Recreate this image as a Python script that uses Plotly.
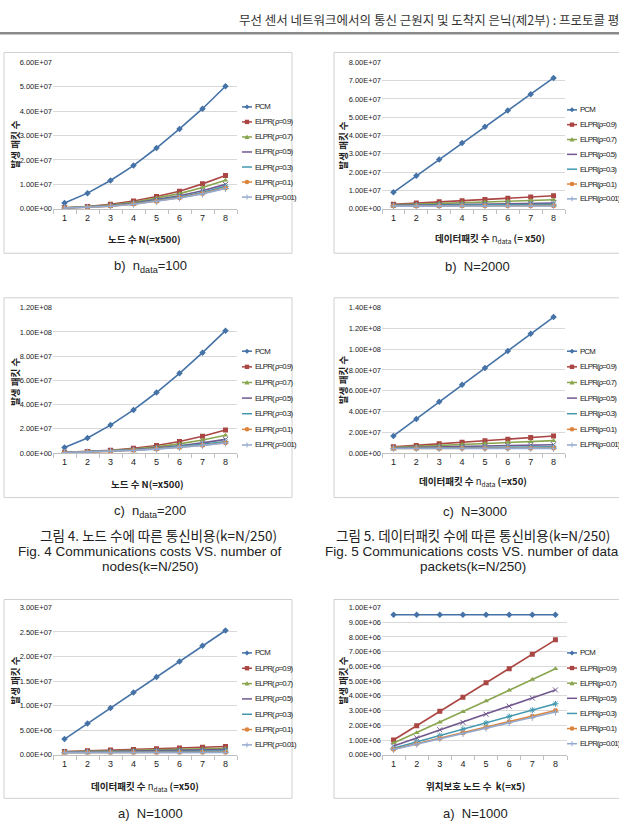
import plotly.graph_objects as go

W, H = 619, 832

# ---------------- data ----------------
categories = [1, 2, 3, 4, 5, 6, 7, 8]
series_names_left = ["PCM", "ELPR( ρ=0.9)", "ELPR( ρ=0.7)", "ELPR( ρ=0.5)",
                     "ELPR( ρ=0.3)", "ELPR( ρ=0.1)", "ELPR( ρ=0.01)"]
series_names_right = ["PCM", "ELPR(ρ=0.9)", "ELPR(ρ=0.7)", "ELPR(ρ=0.5)",
                      "ELPR(ρ=0.3)", "ELPR(ρ=0.1)", "ELPR(ρ=0.01)"]

# Fig.4 b) n_data = 100  (x: number of nodes N, x500)
ndata100_pcm = [2.4e6, 6.4e6, 11.6e6, 17.7e6, 24.9e6, 32.7e6, 41.0e6, 50.2e6]
ndata100_r09 = [0.4e6, 0.9e6, 1.8e6, 3.2e6, 5.0e6, 7.2e6, 10.2e6, 13.6e6]
ndata100_r07 = [0.35e6, 0.8e6, 1.5e6, 2.7e6, 4.3e6, 6.2e6, 8.7e6, 11.7e6]
ndata100_r05 = [0.3e6, 0.7e6, 1.3e6, 2.3e6, 3.7e6, 5.3e6, 7.4e6, 10.0e6]
ndata100_r03 = [0.28e6, 0.62e6, 1.2e6, 2.1e6, 3.3e6, 4.8e6, 6.7e6, 9.2e6]
ndata100_r01 = [0.25e6, 0.58e6, 1.1e6, 1.9e6, 3.1e6, 4.5e6, 6.3e6, 8.5e6]
ndata100_r001 = [0.25e6, 0.56e6, 1.05e6, 1.85e6, 3.0e6, 4.4e6, 6.1e6, 8.3e6]
ndata100_yticks = [0, 1e7, 2e7, 3e7, 4e7, 5e7, 6e7]

# Fig.5 b) N = 2000  (x: number of data packets, x50)
n2000_pcm = [9.0e6, 18.0e6, 26.9e6, 36.0e6, 44.8e6, 53.7e6, 62.6e6, 71.5e6]
n2000_r09 = [2.4e6, 3.1e6, 3.8e6, 4.4e6, 5.1e6, 5.8e6, 6.4e6, 7.1e6]
n2000_r07 = [2.1e6, 2.5e6, 2.9e6, 3.3e6, 3.7e6, 4.1e6, 4.5e6, 4.9e6]
n2000_r05 = [1.9e6, 2.1e6, 2.3e6, 2.4e6, 2.6e6, 2.8e6, 3.0e6, 3.1e6]
n2000_r03 = [1.7e6, 1.8e6, 1.9e6, 2.0e6, 2.1e6, 2.2e6, 2.3e6, 2.4e6]
n2000_r01 = [1.5e6, 1.5e6, 1.55e6, 1.6e6, 1.6e6, 1.65e6, 1.7e6, 1.7e6]
n2000_r001 = [1.45e6, 1.45e6, 1.46e6, 1.46e6, 1.47e6, 1.47e6, 1.48e6, 1.48e6]
n2000_yticks = [0, 1e7, 2e7, 3e7, 4e7, 5e7, 6e7, 7e7, 8e7]

# Fig.4 c) n_data = 200
ndata200_pcm = [4.6e6, 12.5e6, 23.1e6, 35.6e6, 50.0e6, 65.8e6, 82.9e6, 101.0e6]
ndata200_r09 = [0.6e6, 1.3e6, 2.4e6, 4.0e6, 6.3e6, 9.6e6, 13.9e6, 19.0e6]
ndata200_r07 = [0.5e6, 1.1e6, 2.0e6, 3.3e6, 5.1e6, 7.6e6, 10.8e6, 14.7e6]
ndata200_r05 = [0.45e6, 1.0e6, 1.7e6, 2.8e6, 4.2e6, 6.1e6, 8.4e6, 11.3e6]
ndata200_r03 = [0.4e6, 0.9e6, 1.5e6, 2.5e6, 3.7e6, 5.2e6, 7.2e6, 9.5e6]
ndata200_r01 = [0.38e6, 0.8e6, 1.4e6, 2.3e6, 3.4e6, 4.8e6, 6.5e6, 8.5e6]
ndata200_r001 = [0.37e6, 0.78e6, 1.35e6, 2.2e6, 3.3e6, 4.7e6, 6.4e6, 8.3e6]
ndata200_yticks = [0, 2e7, 4e7, 6e7, 8e7, 10e7, 12e7]

# Fig.5 c) N = 3000
n3000_pcm = [16.5e6, 32.9e6, 49.4e6, 65.8e6, 82.0e6, 98.4e6, 115.0e6, 131.0e6]
n3000_r09 = [6.0e6, 7.4e6, 8.9e6, 10.4e6, 11.9e6, 13.4e6, 14.9e6, 16.4e6]
n3000_r07 = [5.5e6, 6.4e6, 7.3e6, 8.2e6, 9.2e6, 10.1e6, 11.0e6, 12.0e6]
n3000_r05 = [5.0e6, 5.4e6, 5.9e6, 6.3e6, 6.8e6, 7.2e6, 7.7e6, 8.1e6]
n3000_r03 = [4.6e6, 4.8e6, 5.0e6, 5.2e6, 5.4e6, 5.6e6, 5.8e6, 6.0e6]
n3000_r01 = [4.4e6, 4.45e6, 4.5e6, 4.55e6, 4.6e6, 4.65e6, 4.7e6, 4.8e6]
n3000_r001 = [4.35e6, 4.4e6, 4.4e6, 4.45e6, 4.45e6, 4.5e6, 4.5e6, 4.55e6]
n3000_yticks = [0, 2e7, 4e7, 6e7, 8e7, 10e7, 12e7, 14e7]

# a) N = 1000, data packets
n1000p_pcm = [3.2e6, 6.35e6, 9.5e6, 12.7e6, 15.85e6, 19.0e6, 22.2e6, 25.3e6]
n1000p_r09 = [0.65e6, 0.8e6, 0.95e6, 1.1e6, 1.25e6, 1.4e6, 1.55e6, 1.7e6]
n1000p_r07 = [0.6e6, 0.7e6, 0.8e6, 0.9e6, 1.0e6, 1.1e6, 1.2e6, 1.3e6]
n1000p_r05 = [0.55e6, 0.62e6, 0.7e6, 0.77e6, 0.85e6, 0.92e6, 1.0e6, 1.05e6]
n1000p_r03 = [0.5e6, 0.54e6, 0.58e6, 0.62e6, 0.66e6, 0.7e6, 0.74e6, 0.78e6]
n1000p_r01 = [0.45e6, 0.46e6, 0.47e6, 0.48e6, 0.49e6, 0.5e6, 0.51e6, 0.52e6]
n1000p_r001 = [0.44e6, 0.44e6, 0.45e6, 0.45e6, 0.46e6, 0.46e6, 0.47e6, 0.47e6]
n1000p_yticks = [0, 5e6, 10e6, 15e6, 20e6, 25e6, 30e6]

# a) N = 1000, location-protected nodes k
n1000k_pcm = [9.5e6, 9.5e6, 9.5e6, 9.5e6, 9.5e6, 9.5e6, 9.5e6, 9.5e6]
n1000k_r09 = [1.0e6, 1.97e6, 2.95e6, 3.91e6, 4.88e6, 5.84e6, 6.82e6, 7.8e6]
n1000k_r07 = [0.8e6, 1.5e6, 2.2e6, 2.92e6, 3.65e6, 4.38e6, 5.1e6, 5.84e6]
n1000k_r05 = [0.6e6, 1.15e6, 1.7e6, 2.2e6, 2.75e6, 3.3e6, 3.85e6, 4.4e6]
n1000k_r03 = [0.45e6, 0.88e6, 1.3e6, 1.73e6, 2.16e6, 2.6e6, 3.03e6, 3.46e6]
n1000k_r01 = [0.38e6, 0.75e6, 1.12e6, 1.5e6, 1.87e6, 2.25e6, 2.62e6, 3.0e6]
n1000k_r001 = [0.36e6, 0.72e6, 1.09e6, 1.45e6, 1.81e6, 2.18e6, 2.54e6, 2.9e6]
n1000k_yticks = [0, 1e6, 2e6, 3e6, 4e6, 5e6, 6e6, 7e6, 8e6, 9e6, 10e6]

# ---------------- styles ----------------
colors = ["#4572A7", "#AA4643", "#89A54E", "#71588F", "#4198AF", "#DB843D", "#93A9CF"]
symbols = ["diamond", "square", "triangle-up", "x-thin-open", "asterisk-open", "circle", "cross-thin-open"]
NARROW = "Liberation Sans Narrow, Liberation Sans, Arial, sans-serif"
KR = "Noto Sans CJK KR, sans-serif"
SANS = "Liberation Sans, Arial, sans-serif"

panels = [
    dict(series=[ndata100_pcm, ndata100_r09, ndata100_r07, ndata100_r05, ndata100_r03, ndata100_r01, ndata100_r001],
         names=series_names_left,
         yticks=ndata100_yticks, plot=(53, 59, 237, 207), frame=(4, 49, 292, 252),
         leg=(242, 104, 15.2), xtitle="<b>노드 수 N(=x500)</b>", xt=(144, 238), yt=(15, 142),
         cap="b)  n<sub>data</sub>=100", cappos=(150, 265)),
    dict(series=[n2000_pcm, n2000_r09, n2000_r07, n2000_r05, n2000_r03, n2000_r01, n2000_r001],
         names=series_names_right,
         yticks=n2000_yticks, plot=(382, 59, 565, 207), frame=(334, 49, 630, 252),
         leg=(567, 107, 15.0), xtitle="<b>데이터패킷 수 </b>n<sub>data</sub><b> (= x50)</b>", xt=(490, 237), yt=(343, 143),
         cap="b)  N=2000", cappos=(477, 265)),
    dict(series=[ndata200_pcm, ndata200_r09, ndata200_r07, ndata200_r05, ndata200_r03, ndata200_r01, ndata200_r001],
         names=series_names_left,
         yticks=ndata200_yticks, plot=(53, 307, 237, 454), frame=(4, 297, 292, 499),
         leg=(242, 351, 15.8), xtitle="<b>노드 수 N(=x500)</b>", xt=(147, 485), yt=(15, 382),
         cap="c)  n<sub>data</sub>=200", cappos=(150, 513)),
    dict(series=[n3000_pcm, n3000_r09, n3000_r07, n3000_r05, n3000_r03, n3000_r01, n3000_r001],
         names=series_names_right,
         yticks=n3000_yticks, plot=(382, 307, 565, 454), frame=(334, 297, 630, 499),
         leg=(567, 351, 15.8), xtitle="<b>데이터패킷 수 </b>n<sub>data</sub><b> (=x50)</b>", xt=(473, 483), yt=(343, 380),
         cap="c)  N=3000", cappos=(475, 513)),
    dict(series=[n1000p_pcm, n1000p_r09, n1000p_r07, n1000p_r05, n1000p_r03, n1000p_r01, n1000p_r001],
         names=series_names_left,
         yticks=n1000p_yticks, plot=(53, 610, 237, 759), frame=(4, 602, 292, 803),
         leg=(242, 656, 15.5), xtitle="<b>데이터패킷 수 </b>n<sub>data</sub><b> (=x50)</b>", xt=(145, 791), yt=(15, 684),
         cap="a)  N=1000", cappos=(150, 818)),
    dict(series=[n1000k_pcm, n1000k_r09, n1000k_r07, n1000k_r05, n1000k_r03, n1000k_r01, n1000k_r001],
         names=series_names_right,
         yticks=n1000k_yticks, plot=(382, 610, 567, 759), frame=(334, 602, 630, 803),
         leg=(567, 656, 15.3), xtitle="<b>위치보호 노드 수  k(=x5)</b>", xt=(475, 791), yt=(343, 684),
         cap="a)  N=1000", cappos=(475, 818)),
]


def px(x):
    return x / W


def py(y):
    return 1 - y / H


fig = go.Figure()
shapes = []
annotations = []
layout_axes = {}

for i, p in enumerate(panels, start=1):
    x0, y0, x1, y1 = p["plot"]
    xa, ya = f"x{i}", f"y{i}"
    for j, vals in enumerate(p["series"]):
        fig.add_trace(go.Scatter(
            x=categories, y=vals, xaxis=xa, yaxis=ya, mode="lines+markers",
            name=p["names"][j], showlegend=False,
            line=dict(color=colors[j], width=1.6),
            marker=dict(symbol=symbols[j], size=5, color=colors[j],
                        line=dict(color=colors[j], width=1 if "open" in symbols[j] else 0)),
        ))
    yt = p["yticks"]
    layout_axes[f"xaxis{i}"] = dict(
        domain=[px(x0), px(x1)], anchor=ya, range=[0.5, 8.5],
        tickvals=categories, ticktext=[str(c) for c in categories],
        showgrid=False, zeroline=False, showline=True, linecolor="#bfbfbf", linewidth=1,
        ticks="", tickfont=dict(family=NARROW, size=9, color="#222"),
        minor=dict(ticks="outside", tick0=0.5, dtick=1, ticklen=4, tickcolor="#bfbfbf", showgrid=False),
        fixedrange=True,
    )
    layout_axes[f"yaxis{i}"] = dict(
        domain=[py(y1), py(y0)], anchor=xa, range=[0, yt[-1]],
        tickvals=yt, ticktext=[f"{v:.2E}" for v in yt],
        showgrid=True, gridcolor="#d9d9d9", gridwidth=1, zeroline=False, showline=False,
        ticks="", tickfont=dict(family=NARROW, size=7.5, color="#222"), fixedrange=True,
    )
    # frame
    fx0, fy0, fx1, fy1 = p["frame"]
    shapes.append(dict(type="rect", xref="paper", yref="paper",
                       x0=px(fx0), x1=px(fx1), y0=py(fy1), y1=py(fy0),
                       line=dict(color="#d0d0d0", width=1)))
    # legend (custom, Excel-like compact)
    L, top, gap = p["leg"]
    for j, name in enumerate(p["names"]):
        yy = top + j * gap
        c = colors[j]
        shapes.append(dict(type="line", xref="paper", yref="paper",
                           x0=px(L), x1=px(L + 10), y0=py(yy), y1=py(yy),
                           line=dict(color=c, width=1.5)))
        cx, s = L + 5, 2.5
        sym = symbols[j]
        if sym == "diamond":
            path = f"M{px(cx - s)},{py(yy)} L{px(cx)},{py(yy - s)} L{px(cx + s)},{py(yy)} L{px(cx)},{py(yy + s)} Z"
            shapes.append(dict(type="path", xref="paper", yref="paper", path=path, fillcolor=c, line=dict(width=0)))
        elif sym == "square":
            shapes.append(dict(type="rect", xref="paper", yref="paper", x0=px(cx - 2.2), x1=px(cx + 2.2),
                               y0=py(yy + 2.2), y1=py(yy - 2.2), fillcolor=c, line=dict(width=0)))
        elif sym == "triangle-up":
            path = f"M{px(cx - s)},{py(yy + 2)} L{px(cx)},{py(yy - 2.5)} L{px(cx + s)},{py(yy + 2)} Z"
            shapes.append(dict(type="path", xref="paper", yref="paper", path=path, fillcolor=c, line=dict(width=0)))
        elif sym == "circle":
            shapes.append(dict(type="circle", xref="paper", yref="paper", x0=px(cx - 2.3), x1=px(cx + 2.3),
                               y0=py(yy + 2.3), y1=py(yy - 2.3), fillcolor=c, line=dict(width=0)))
        elif sym == "cross-thin-open":
            shapes.append(dict(type="line", xref="paper", yref="paper", x0=px(cx), x1=px(cx),
                               y0=py(yy - 2.5), y1=py(yy + 2.5), line=dict(color=c, width=1)))
        annotations.append(dict(xref="paper", yref="paper", x=px(L + 10.5), y=py(yy),
                                xanchor="left", yanchor="middle", showarrow=False,
                                text=f'<span style="letter-spacing:-0.85px">{name}</span>',
                                font=dict(family=NARROW, size=7.8, color="#222")))
    # axis titles
    annotations.append(dict(xref="paper", yref="paper", x=px(p["xt"][0]), y=py(p["xt"][1]),
                            xanchor="center", yanchor="middle", showarrow=False,
                            text=p["xtitle"], font=dict(family=KR, size=9.5, color="#222")))
    annotations.append(dict(xref="paper", yref="paper", x=px(p["yt"][0]), y=py(p["yt"][1]),
                            xanchor="center", yanchor="middle", showarrow=False, textangle=-90,
                            text="<b>발생 패킷 수</b>", font=dict(family=KR, size=9.5, color="#222")))
    # caption
    annotations.append(dict(xref="paper", yref="paper", x=px(p["cappos"][0]), y=py(p["cappos"][1]),
                            xanchor="center", yanchor="middle", showarrow=False,
                            text=p["cap"], font=dict(family=SANS, size=13, color="#222")))

# header
annotations.append(dict(xref="paper", yref="paper", x=px(621), y=py(16), xanchor="right", yanchor="middle",
                        showarrow=False, text="무선 센서 네트워크에서의 통신 근원지 및 도착지 은닉(제2부) : 프로토콜 평",
                        font=dict(family=KR, size=12.5, color="#333")))
shapes.append(dict(type="line", xref="paper", yref="paper", x0=0, x1=1, y0=py(29.5), y1=py(29.5),
                   line=dict(color="#8a8a8a", width=2.5)))

# figure captions
fig_caps = [
    ("그림 4. 노드 수에 따른 통신비용(k=N/250)", KR, 158, 537),
    ("Fig. 4 Communications costs VS. number of", SANS, 150, 553),
    ("nodes(k=N/250)", SANS, 150, 569),
    ("그림 5. 데이터패킷 수에 따른 통신비용(k=N/250)", KR, 473, 537),
    ("Fig. 5 Communications costs VS. number of data", SANS, 472, 553),
    ("packets(k=N/250)", SANS, 473, 569),
]
for txt, fam, cx, cy in fig_caps:
    annotations.append(dict(xref="paper", yref="paper", x=px(cx), y=py(cy), xanchor="center", yanchor="middle",
                            showarrow=False, text=txt, font=dict(family=fam, size=13.5, color="#222")))

fig.update_layout(
    width=W, height=H, margin=dict(l=0, r=0, t=0, b=0),
    paper_bgcolor="white", plot_bgcolor="white", showlegend=False,
    shapes=shapes, annotations=annotations, **layout_axes,
)

fig.write_html("out.html", config={"displayModeBar": False})
